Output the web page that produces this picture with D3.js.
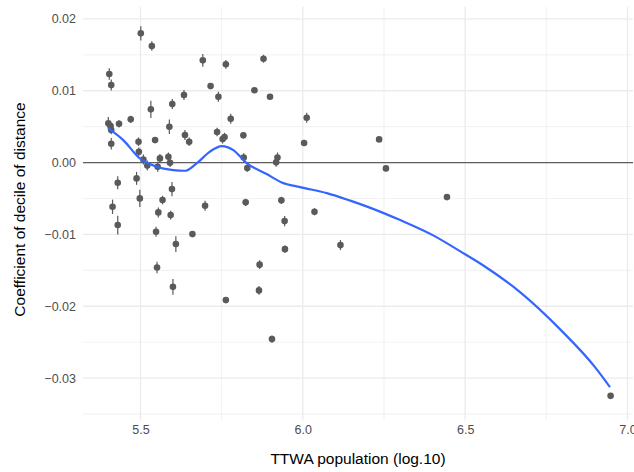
<!DOCTYPE html>
<html>
<head>
<meta charset="utf-8">
<script src="https://cdn.jsdelivr.net/npm/d3@7"></script>
<style>
  html, body { margin: 0; padding: 0; background: #ffffff; }
  svg { display: block; font-family: "Liberation Sans", Arial, sans-serif; }
</style>
</head>
<body>
<svg id="chart" width="634" height="472"></svg>
<script>
// ---- data ----
const popLog = [5.401,5.408,5.410,5.404,5.410,5.410,5.434,5.430,5.414,5.430,5.470,5.488,5.494,5.495,5.501,5.498,5.509,5.521,5.532,5.535,5.545,5.551,5.548,5.553,5.555,5.560,5.568,5.586,5.591,5.589,5.593,5.597,5.598,5.600,5.609,5.634,5.637,5.650,5.660,5.692,5.699,5.716,5.736,5.740,5.753,5.759,5.763,5.763,5.778,5.817,5.818,5.824,5.829,5.851,5.867,5.865,5.879,5.899,5.905,5.918,5.922,5.934,5.944,5.945,6.004,6.012,6.036,6.116,6.235,6.256,6.444,6.948];
const coef = [0.00546,0.00508,0.00453,0.01233,0.01079,0.00262,0.00540,-0.00281,-0.00616,-0.00870,0.00602,-0.00220,0.00290,0.00150,0.01799,-0.00499,0.00042,-0.00042,0.00741,0.01623,0.00313,-0.01460,-0.00964,-0.00058,-0.00694,0.00058,-0.00522,0.00081,-0.00003,0.00499,-0.00731,-0.00369,0.00815,-0.01730,-0.01135,0.00940,0.00383,0.00290,-0.00996,0.01423,-0.00602,0.01065,0.00425,0.00916,0.00327,0.00355,0.01368,-0.01915,0.00610,0.00379,0.00070,-0.00554,-0.00077,0.01006,-0.01421,-0.01780,0.01446,0.00916,-0.02458,0.00003,0.00070,-0.00526,-0.00815,-0.01205,0.00272,0.00624,-0.00685,-0.01149,0.00323,-0.00081,-0.00481,-0.03248];
const coefSE = [0.0009,0.0006,0.0006,0.0008,0.00077,0.0008,0.0005,0.0009,0.001,0.0013,0.0005,0.0009,0.0006,0.0006,0.00098,0.0012,0.0007,0.0007,0.0012,0.00065,0.0004,0.0008,0.0007,0.0007,0.0007,0.0006,0.0006,0.0006,0.0006,0.001,0.0006,0.001,0.0007,0.0011,0.0011,0.0007,0.0007,0.0006,0.0004,0.0009,0.0007,0.0004,0.0006,0.0007,0.0006,0.0006,0.0006,0.0004,0.0007,0.0004,0.0006,0.0005,0.0005,0.0003,0.0006,0.0006,0.00055,0.0004,0.0005,0.0006,0.0007,0.0005,0.0007,0.0005,0.0003,0.0007,0.0005,0.0007,0.0002,0.0004,0.0002,0.0002];
const smoothX = [5.401,5.447,5.498,5.550,5.601,5.637,5.673,5.714,5.750,5.786,5.827,5.889,5.935,5.992,6.074,6.146,6.198,6.300,6.403,6.484,6.555,6.669,6.792,6.900,6.946];
const smoothY = [0.00476,0.00313,0.00058,-0.00058,-0.00104,-0.00114,-0.00011,0.00153,0.00230,0.00174,-0.00007,-0.00160,-0.00276,-0.00341,-0.00425,-0.00530,-0.00613,-0.00801,-0.01017,-0.01233,-0.01429,-0.01804,-0.02319,-0.02848,-0.03126];
const xTicks = [5.5, 6.0, 6.5, 7.0];
const xMinor = [5.75, 6.25, 6.75];
const yTicks = [0.02, 0.01, 0.00, -0.01, -0.02, -0.03];
const yMinor = [0.015, 0.005, -0.005, -0.015, -0.025, -0.035];
const xTitle = "TTWA population (log.10)";
const yTitle = "Coefficient of decile of distance";

// ---- layout ----
const panel = { left: 83, right: 633, top: 6.5, bottom: 420.5 };
const svg = d3.select("#chart");

const x = d3.scaleLinear().domain([5.323, 7.017]).range([panel.left, panel.right]);
const y = d3.scaleLinear().domain([-0.03591, 0.02173]).range([panel.bottom, panel.top]);

// grid
const grid = svg.append("g");
grid.selectAll("line.ymin").data(yMinor).join("line")
  .attr("x1", panel.left).attr("x2", panel.right)
  .attr("y1", d => y(d)).attr("y2", d => y(d))
  .attr("stroke", "#ebebeb").attr("stroke-width", 0.7);
grid.selectAll("line.xmin").data(xMinor).join("line")
  .attr("y1", panel.top).attr("y2", panel.bottom)
  .attr("x1", d => x(d)).attr("x2", d => x(d))
  .attr("stroke", "#ebebeb").attr("stroke-width", 0.7);
grid.selectAll("line.ymaj").data(yTicks).join("line")
  .attr("x1", panel.left).attr("x2", panel.right)
  .attr("y1", d => y(d)).attr("y2", d => y(d))
  .attr("stroke", "#ebebeb").attr("stroke-width", 1.3);
grid.selectAll("line.xmaj").data(xTicks).join("line")
  .attr("y1", panel.top).attr("y2", panel.bottom)
  .attr("x1", d => x(d)).attr("x2", d => x(d))
  .attr("stroke", "#ebebeb").attr("stroke-width", 1.3);

// axes (labels only, theme_minimal style)
const xAxis = d3.axisBottom(x).tickValues(xTicks).tickFormat(d3.format(".1f")).tickSize(0).tickPadding(0);
svg.append("g").attr("transform", `translate(0,${panel.bottom + 13})`).call(xAxis)
  .call(g => g.select(".domain").remove())
  .call(g => g.selectAll("text").attr("fill", "#4d4d4d").attr("font-size", "12.5px")
    .attr("font-family", "Liberation Sans, Arial, sans-serif").attr("dy", "0"));

const yAxis = d3.axisLeft(y).tickValues(yTicks).tickFormat(d3.format(".2f")).tickSize(0).tickPadding(7);
svg.append("g").attr("transform", `translate(${panel.left},0)`).call(yAxis)
  .call(g => g.select(".domain").remove())
  .call(g => g.selectAll("text").attr("fill", "#4d4d4d").attr("font-size", "12.5px")
    .attr("font-family", "Liberation Sans, Arial, sans-serif"));

// zero line
svg.append("line")
  .attr("x1", panel.left).attr("x2", panel.right)
  .attr("y1", y(0)).attr("y2", y(0))
  .attr("stroke", "#5f5f5f").attr("stroke-width", 1.1);

// point ranges
const pts = popLog.map((v, i) => ({ x: v, y: coef[i], se: coefSE[i] }));
const pg = svg.append("g");
pg.selectAll("line").data(pts).join("line")
  .attr("x1", d => x(d.x)).attr("x2", d => x(d.x))
  .attr("y1", d => y(d.y - d.se)).attr("y2", d => y(d.y + d.se))
  .attr("stroke", "#5a5a5a").attr("stroke-width", 1.2);
pg.selectAll("circle").data(pts).join("circle")
  .attr("cx", d => x(d.x)).attr("cy", d => y(d.y)).attr("r", 3.3)
  .attr("fill", "#5a5a5a");

// smooth line
const sm = smoothX.map((v, i) => [v, smoothY[i]]);
svg.append("path").datum(sm)
  .attr("d", d3.line().x(d => x(d[0])).y(d => y(d[1])).curve(d3.curveMonotoneX))
  .attr("fill", "none").attr("stroke", "#3366FF").attr("stroke-width", 2.2);

// titles
svg.append("text").attr("x", (panel.left + panel.right) / 2).attr("y", 464)
  .attr("text-anchor", "middle").attr("font-size", "15.5px").attr("fill", "#000")
  .text(xTitle);
svg.append("text").attr("transform", `translate(25,${(panel.top + panel.bottom) / 2 - 4}) rotate(-90)`)
  .attr("text-anchor", "middle").attr("font-size", "15.5px").attr("fill", "#000")
  .text(yTitle);
</script>
</body>
</html>
